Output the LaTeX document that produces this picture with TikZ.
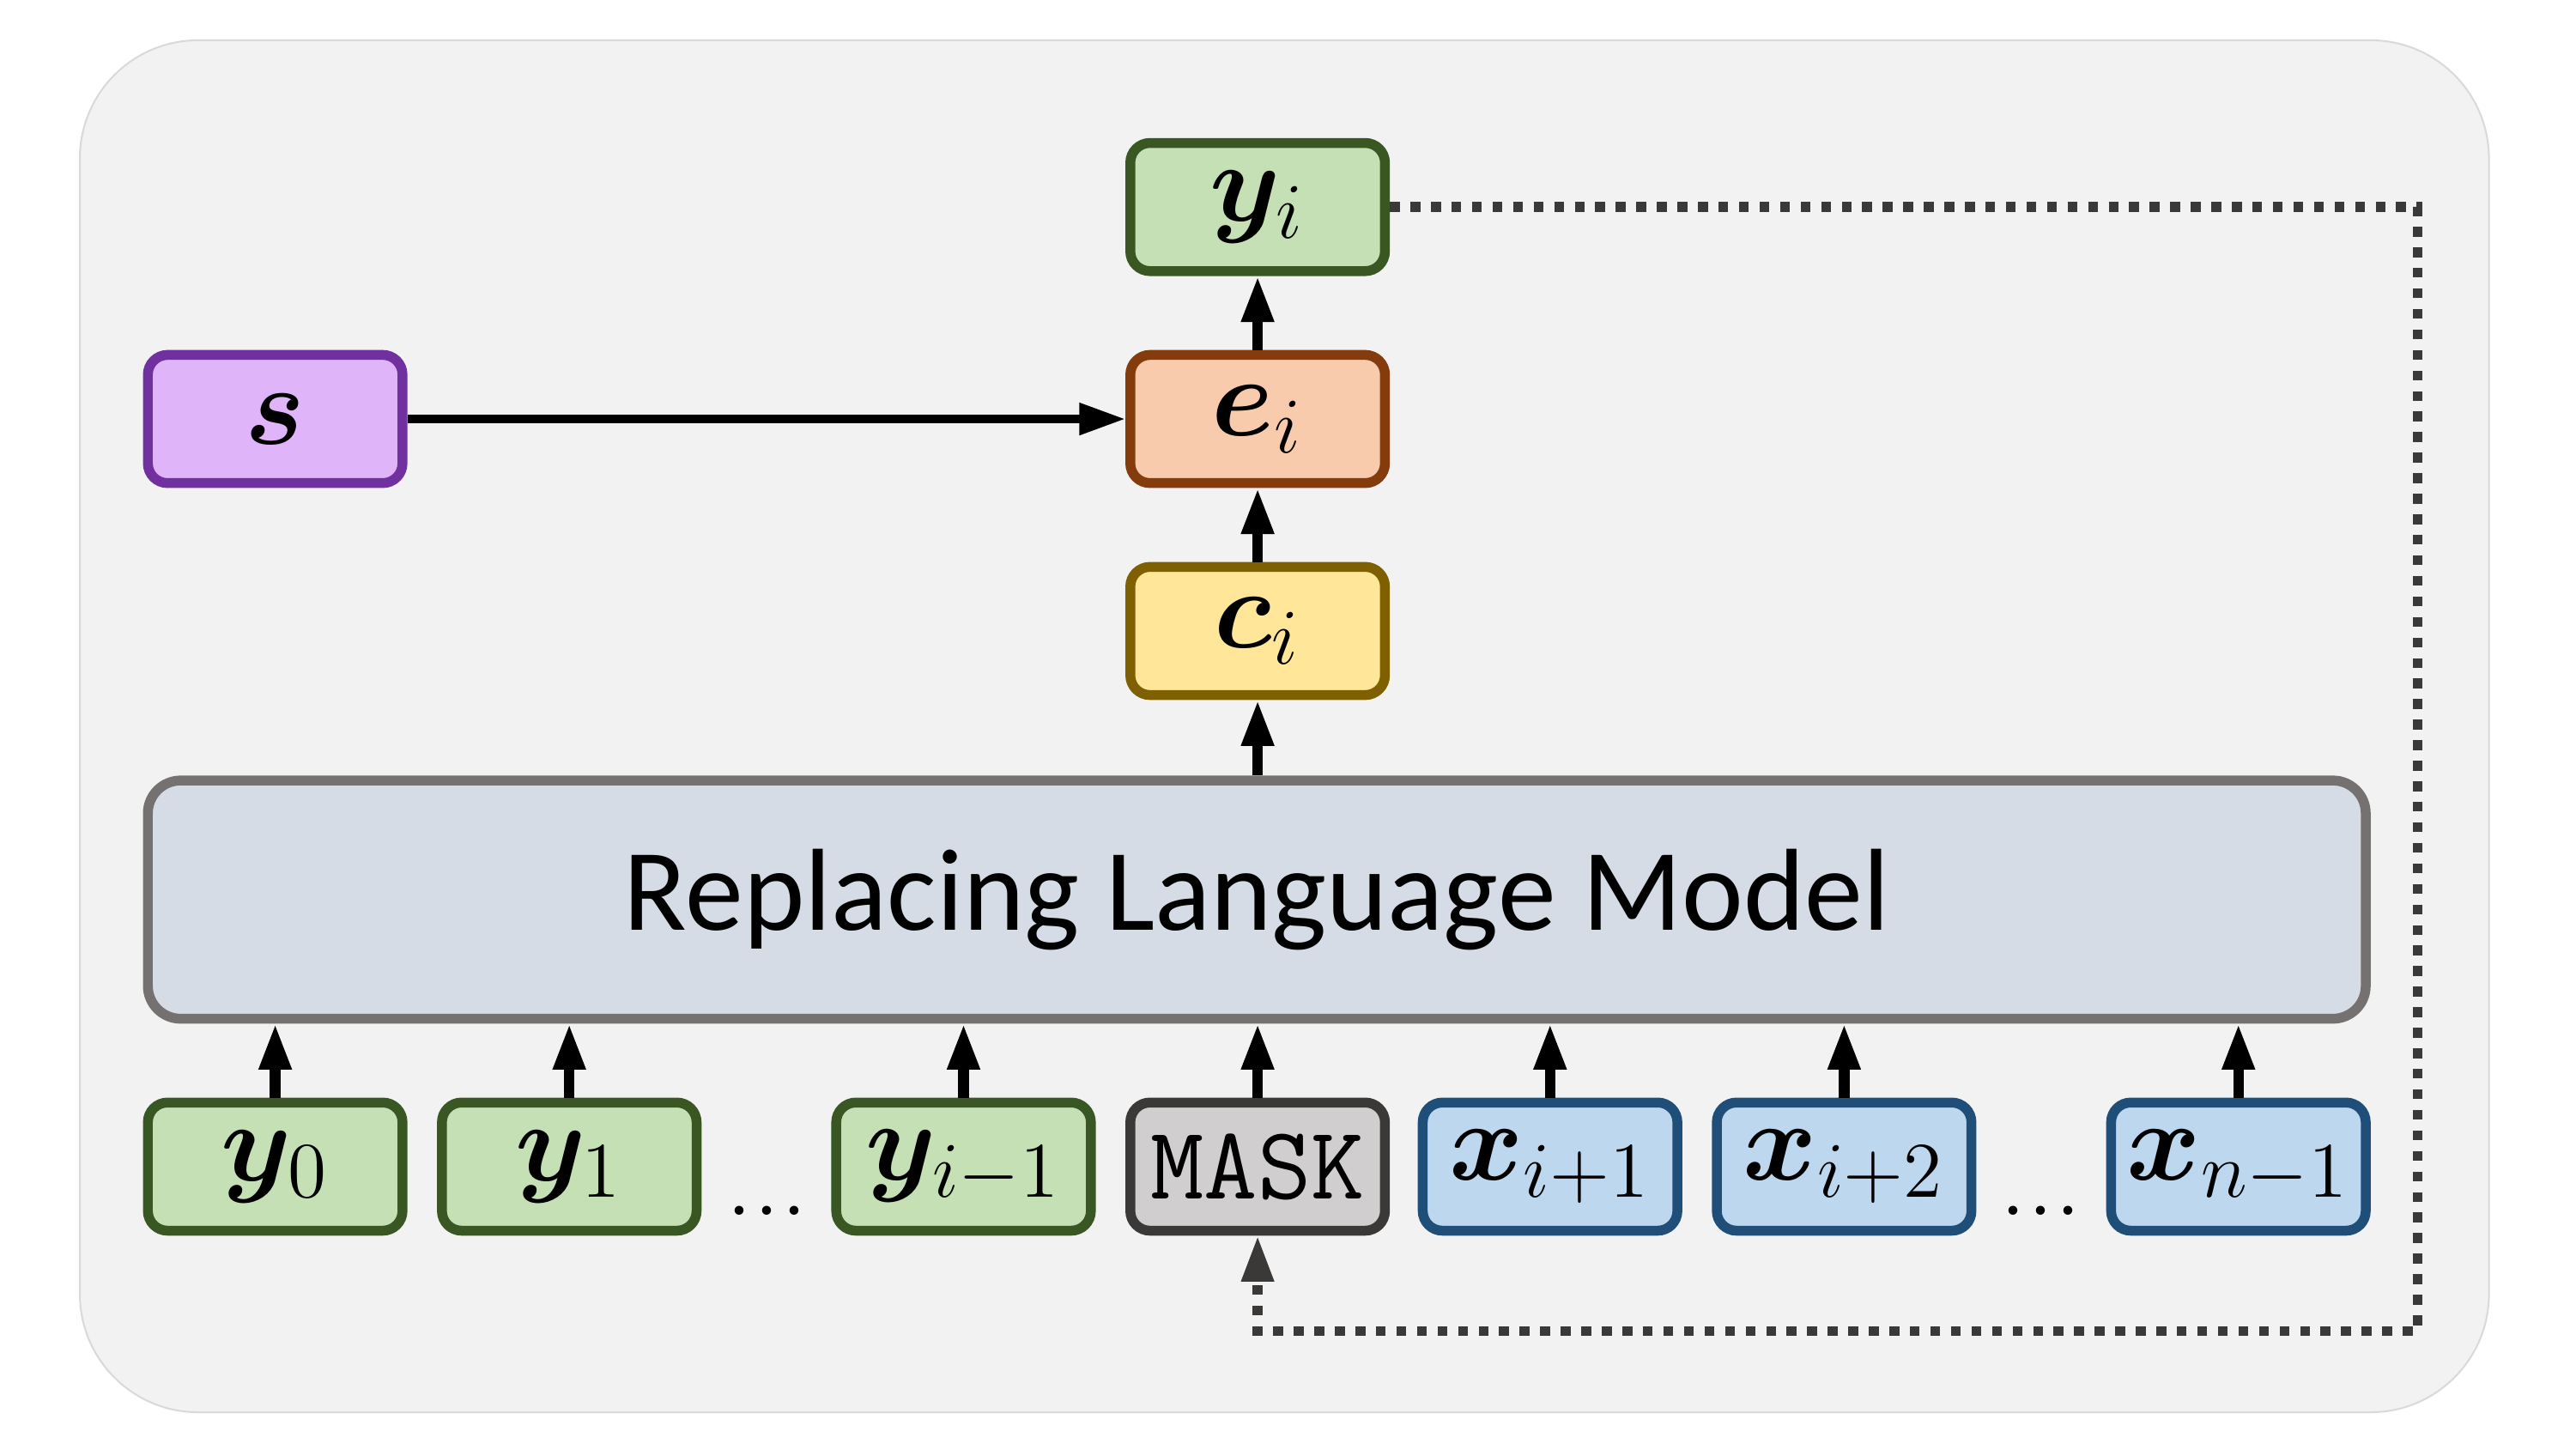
\RequirePackage{fix-cm}
\documentclass[tikz,border=0pt]{standalone}
\usepackage{amsmath}
\usepackage{bm}
\usepackage{fontspec}
\newfontfamily\calfont{Carlito}
\usetikzlibrary{arrows.meta,positioning}

\definecolor{bgfill}{HTML}{F2F2F2}
\definecolor{bgline}{HTML}{D9D9D9}
\definecolor{yfill}{HTML}{C5E0B4}
\definecolor{ydraw}{HTML}{385723}
\definecolor{efill}{HTML}{F8CBAD}
\definecolor{edraw}{HTML}{843C0C}
\definecolor{cfill}{HTML}{FFE699}
\definecolor{cdraw}{HTML}{7F6000}
\definecolor{sfill}{HTML}{E0B4F8}
\definecolor{sdraw}{HTML}{7030A0}
\definecolor{mfill}{HTML}{D0CECE}
\definecolor{mdraw}{HTML}{3B3838}
\definecolor{xfill}{HTML}{BDD7EE}
\definecolor{xdraw}{HTML}{1F4E79}
\definecolor{lmfill}{HTML}{D6DCE5}
\definecolor{lmdraw}{HTML}{767171}

\tikzset{
    tok/.style={draw, rounded corners=0.12cm, line width=0.06cm, minimum width=1.55cm,
        minimum height=0.78cm, inner sep=0pt, font=\fontsize{19.5}{22}\selectfont},
    ytok/.style={tok, fill=yfill, draw=ydraw},
    xtok/.style={tok, fill=xfill, draw=xdraw},
    etok/.style={tok, fill=efill, draw=edraw},
    ctok/.style={tok, fill=cfill, draw=cdraw},
    stok/.style={tok, fill=sfill, draw=sdraw},
    masktok/.style={tok, fill=mfill, draw=mdraw, font=\fontsize{18}{21}\selectfont\ttfamily},
    arr/.style={-{Triangle[length=2.8mm,width=1.85mm]}, line width=0.064cm},
    loopline/.style={-{Triangle[length=2.8mm,width=1.85mm]}, line width=0.06cm, draw=mdraw,
        dash pattern=on 0.06cm off 0.065cm}
}

\begin{document}
\begin{tikzpicture}
    \useasboundingbox (0,0) rectangle (15.68,8.82);
    \draw[fill=bgfill, draw=bgline, line width=0.3pt, rounded corners=0.72cm] (0.486,0.225) rectangle (15.15,8.575);

    % model
    \node[draw=lmdraw, fill=lmfill, line width=0.06cm, rounded corners=0.2cm, minimum width=13.5cm,
        minimum height=1.45cm, font=\calfont\fontsize{20.2}{24}\selectfont] (lm) at (7.65,3.345) {Replacing Language Model};

    % input tokens
    \foreach \nm/\xx/\sty/\lab in {y0/1.675/ytok/{$\bm{y}_0$}, y1/3.465/ytok/{$\bm{y}_1$},
            yim/5.865/ytok/{$\bm{y}_{i-1}$}, mask/7.655/masktok/{MASK},
            xip/9.435/xtok/{$\bm{x}_{i+1}$}, xipp/11.225/xtok/{$\bm{x}_{i+2}$},
            xn/13.625/xtok/{$\bm{x}_{n-1}$}}
        \node[\sty] (\nm) at (\xx,1.72) {\lab};
    \node[font=\fontsize{19}{22}\selectfont, inner sep=0pt] (dotsA) at (4.667,1.45) {...};
    \node[font=\fontsize{19}{22}\selectfont, inner sep=0pt] (dotsB) at (12.42,1.45) {...};

    \foreach \nm in {y0,y1,yim,mask,xip,xipp,xn}
        \draw[arr] (\nm.north) -- (\nm.north |- lm.south);

    % output side
    \node[ctok] (ci) at (7.655,4.98) {$\bm{c}_i$};
    \node[etok] (ei) at (7.655,6.27) {$\bm{e}_i$};
    \node[ytok] (yi) at (7.655,7.56) {$\bm{y}_i$};
    \node[stok] (s) at (1.675,6.27) {$\bm{s}$};

    \draw[arr] (lm.north -| ci) -- (ci.south);
    \draw[arr] (ci.north) -- (ei.south);
    \draw[arr] (ei.north) -- (yi.south);
    \draw[arr, line width=0.05cm] (s.east) -- (ei.west);

    % feedback loop
    \coordinate (loopSE) at (14.715,0.72);
    \draw[loopline] (yi.east) -| (loopSE) -| (mask.south);
\end{tikzpicture}
\end{document}
